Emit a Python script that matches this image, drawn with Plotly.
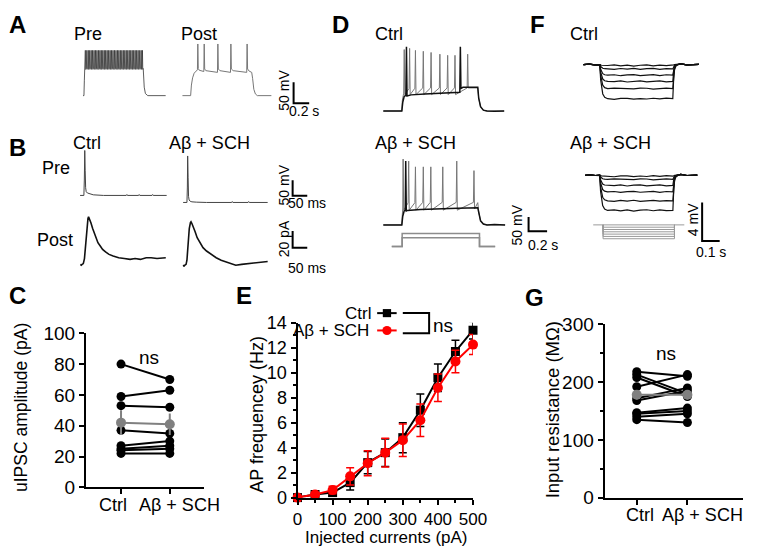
import plotly.graph_objects as go

W, H = 760, 557
FONT = "Liberation Sans, Arial, sans-serif"

# ======================= DATA =======================
# Panel C : uIPSC amplitude (pA), paired cells
c_ctrl = [80, 59, 53, 37, 27, 25, 24, 22]
c_ab = [70, 63, 52, 35, 30, 27, 25, 22]
c_mean = [42, 41]
c_sem = [8, 7]
c_cats = ["Ctrl", "Aβ + SCH"]

# Panel E : AP frequency vs injected current
e_current = [0, 50, 100, 150, 200, 250, 300, 350, 400, 450, 500]
e_ctrl = [0, 0.25, 0.4, 1.2, 2.8, 3.6, 4.8, 7.0, 9.6, 11.7, 13.4]
e_ctrl_sem = [0, 0.1, 0.3, 0.6, 0.9, 1.1, 1.2, 1.3, 1.1, 0.9, 0.7]
e_ab = [0, 0.25, 0.6, 1.7, 2.75, 3.6, 4.6, 6.2, 8.8, 10.9, 12.25]
e_ab_sem = [0, 0.1, 0.3, 0.7, 1.0, 1.15, 1.3, 1.3, 1.1, 0.9, 0.8]

# Panel G : input resistance (MOhm), paired cells
g_ctrl = [218, 213, 208, 192, 172, 168, 147, 145, 140, 135]
g_ab = [210, 180, 175, 213, 190, 185, 155, 150, 145, 130]
g_mean = [178, 178]
g_sem = [8, 8]

# Panel A : pre (fast-spiking) and post traces (s, mV)
a_pre_spike_t = [0.030, 0.049, 0.068, 0.086, 0.105, 0.123, 0.142, 0.161, 0.179, 0.198,
                 0.217, 0.235, 0.254, 0.273, 0.291, 0.310, 0.329, 0.348, 0.366, 0.385,
                 0.404, 0.423, 0.442, 0.460, 0.479, 0.498, 0.517, 0.536, 0.555, 0.574,
                 0.593, 0.612, 0.631, 0.650, 0.669, 0.688, 0.707, 0.727, 0.746, 0.762]
a_pre_peak = 37
a_pre_ahp = -6
a_pre_head_t = [0, 0.012, 0.017, 0.024]
a_pre_head_v = [-70, -70, -35, -6]
a_pre_tail_t = [0.772, 0.785, 0.80, 0.83, 1.06]
a_pre_tail_v = [-6, -50, -65, -70, -70]

a_post_t = [0, 0.105, 0.115, 0.13, 0.15, 0.18, 0.192, 0.197, 0.203, 0.215, 0.27, 0.274,
            0.279, 0.285, 0.30, 0.445, 0.449, 0.454, 0.46, 0.48, 0.612, 0.616, 0.621,
            0.627, 0.65, 0.82, 0.824, 0.829, 0.835, 0.855, 0.888, 0.90, 0.915, 0.935,
            0.96, 1.14]
a_post_v = [-70, -70, -45, -28, -17, -10, -9, 52, -6, -10, -13, -13, 52, -7, -11, -15,
            -15, 52, -7, -11, -15, -15, 52, -7, -11, -15, -15, 52, -7, -12, -15, -30,
            -55, -66, -70, -70]

# Panel B : paired recording (ms; mV for pre, pA for post)
b_pre_ctrl_t = [0, 13, 14.5, 16, 17.5, 19, 21, 25, 32, 45, 80, 158, 160, 162, 200, 202,
                204, 246, 248, 250, 296]
b_pre_ctrl_v = [-70, -70, -20, 76, 10, -45, -58, -62, -65, -68, -70, -70, -67, -70, -70,
                -67, -70, -70, -67, -70, -70]
b_pre_ab_t = [0, 13, 14.5, 15.5, 17, 18.5, 20.5, 24, 30, 45, 80, 166, 168, 170, 222,
              224, 226, 289]
b_pre_ab_v = [-70, -70, -20, 81, 10, -50, -62, -66, -68, -69, -70, -70, -67, -70, -70,
              -67, -70, -70]
b_post_ctrl_t = [0, 3, 6, 10, 14, 18, 22, 26, 28, 31, 36, 42, 48, 53, 60, 68, 76, 86, 98,
                 112, 131, 150, 170, 187, 205, 225, 242, 262, 280, 292]
b_post_ctrl_i = [-7, -8, -7, -6, 0, 18, 38, 48, 50, 48, 43, 36, 30, 25, 19, 15, 11, 8, 5,
                 3, 1, 0, -1, 0, -1, 1, 1, 0, 1, 1]
b_post_ab_t = [0, 3, 6, 10, 13, 17, 21, 25, 27, 30, 35, 41, 48, 58, 68, 80, 95, 113, 130,
               147, 165, 180, 200, 224, 250, 270, 289]
b_post_ab_i = [-6, -7, -6, -5, 0, 20, 38, 45, 46, 44, 40, 34, 27, 21, 15, 11, 7, 3, 0, -2,
               -4, -6, -5, -4, -3, -2, -1.5]

# Panel D : firing traces (s, mV) and current steps (pA)
d_ctrl_spk_t = [0, 0.20, 0.205, 0.215, 0.220, 0.226, 0.232, 0.278, 0.284, 0.290, 0.341,
                0.347, 0.353, 0.426, 0.432, 0.438, 0.510, 0.516, 0.522, 0.605, 0.611,
                0.617, 0.689, 0.695, 0.701, 0.768, 0.774, 0.780, 0.905, 0.911, 0.917,
                1.02, 1.03, 1.05, 1.08, 1.12, 1.305]
d_ctrl_spk_v = [-70, -70, -35, -15, -8, 143, -13, 8, 147, -13, 9, 140, -13, 10, 137, -13,
                10, 133, -13, 10, 127, -13, 10, 123, -13, 10, 123, -13, 10, 127, 10, 10,
                -25, -55, -67, -70, -70]
d_ctrl_sub_t = [0, 0.20, 0.21, 0.225, 0.244, 0.25, 0.256, 0.27, 0.30, 0.45, 0.60, 0.75,
                0.826, 0.832, 0.838, 0.86, 1.02, 1.03, 1.05, 1.08, 1.12, 1.2, 1.305]
d_ctrl_sub_v = [-70, -70, -40, -20, -15, 153, -18, -16, -14, -11, -9, -6, -5, 153, 8, 12,
                12, -25, -55, -67, -70, -71, -70]
d_ab_spk_t = [0, 0.20, 0.205, 0.210, 0.214, 0.220, 0.268, 0.274, 0.280, 0.341, 0.347,
              0.353, 0.426, 0.432, 0.438, 0.507, 0.513, 0.519, 0.636, 0.642, 0.648,
              0.787, 0.793, 0.799, 0.973, 0.979, 0.985, 1.02, 1.03, 1.05, 1.08, 1.12,
              1.315]
d_ab_spk_v = [-70, -70, -35, -15, 158, -19, 6, 151, -19, 7, 131, -19, 8, 131, -19, 8,
              131, -19, 8, 131, -19, 8, 151, -19, 8, 118, -15, 7, -25, -55, -67, -70, -70]
d_ab_sub_t = [0, 0.20, 0.21, 0.225, 0.237, 0.242, 0.248, 0.26, 0.40, 0.60, 0.80, 1.02,
              1.03, 1.05, 1.08, 1.12, 1.2, 1.315]
d_ab_sub_v = [-70, -70, -40, -22, -19, 151, -22, -20, -17, -14, -12, -11, -30, -56, -67,
              -70, -69, -70]
d_stim_t = [0, 0.112, 0.112, 0.947, 0.947, 1.116]
d_stim_hi = [0, 0, 300, 300, 0, 0]
d_stim_lo = [0, 0, 200, 200, 0, 0]

# Panel F : hyperpolarising responses (s, mV relative) and steps (pA)
f_ctrl_levels = [-0.1, -0.45, -1.1, -1.75, -2.5, -3.55]
f_ab_levels = [-0.1, -0.43, -1.06, -1.73, -2.66, -3.66]
f_on_dt = [0, 0.005, 0.010, 0.017, 0.028, 0.045]
f_on_frac = [0, 0.45, 0.7, 0.86, 0.96, 1.0]
f_off_dt = [0, 0.005, 0.010, 0.018, 0.030]
f_off_frac = [1, 0.4, 0.15, 0.04, 0]
f_wig_pos = [0.1, 0.2, 0.3, 0.4, 0.5, 0.6, 0.7, 0.8, 0.9]
f_wig = [[0.06, -0.04, 0.05, -0.06, 0.03, 0.07, -0.03, 0.05, -0.02],
         [-0.05, 0.04, -0.03, 0.06, -0.05, 0.02, 0.05, -0.04, 0.03],
         [0.04, -0.06, 0.02, 0.05, -0.04, -0.02, 0.06, -0.05, 0.04],
         [-0.03, 0.05, -0.06, 0.03, 0.05, -0.04, 0.02, 0.06, -0.05],
         [0.05, 0.02, -0.05, -0.03, 0.06, 0.04, -0.06, 0.03, 0.05],
         [-0.06, 0.03, 0.04, -0.05, 0.02, -0.03, 0.05, -0.02, 0.06]]
f_stim_levels = [-50, -100, -150, -200, -250, -300]

# ======================= LAYOUT HELPERS =======================
fig = go.Figure()
n_ax = [0]


def new_axes(xd, yd, xr, yr, xkw=None, ykw=None):
    n_ax[0] += 1
    s = "" if n_ax[0] == 1 else str(n_ax[0])
    xa = dict(domain=xd, range=xr, anchor="y" + s, fixedrange=True)
    ya = dict(domain=yd, range=yr, anchor="x" + s, fixedrange=True)
    if xkw:
        xa.update(xkw)
    if ykw:
        ya.update(ykw)
    fig.layout["xaxis" + s] = xa
    fig.layout["yaxis" + s] = ya
    return "x" + s, "y" + s


def scaled_axes(ax_px, ay_px, sx, sy):
    """invisible axes covering the page: data (0,0) sits at pixel (ax_px, ay_px)"""
    xr = [(0 - ax_px) / sx, (W - ax_px) / sx]
    yr = [(ay_px - H) / sy, ay_px / sy]
    return new_axes([0, 1], [0, 1], xr, yr, dict(visible=False), dict(visible=False))


def line(axes, x, y, color="black", width=1.0):
    fig.add_trace(go.Scatter(x=x, y=y, xaxis=axes[0], yaxis=axes[1], mode="lines",
                             line=dict(color=color, width=width), hoverinfo="skip",
                             showlegend=False))


def scalebar(ax_px, ay_px, sx, sy, xlen, ylen):
    ax = scaled_axes(ax_px, ay_px, sx, sy)
    line(ax, [xlen, 0, 0], [0, 0, ylen], "black", 2)


def px(x):
    return x / W


def py(y):
    return 1 - y / H


ann = []


def text(x, y, s, size=18, bold=False, angle=0, xanchor="center", color="black"):
    ann.append(dict(x=px(x), y=py(y), xref="paper", yref="paper", text=("<b>%s</b>" % s) if bold else s,
                    showarrow=False, font=dict(family=FONT, size=size, color=color),
                    textangle=angle, xanchor=xanchor, yanchor="middle", borderpad=0))


# ======================= PANEL A =======================
ax = scaled_axes(80, 89 - 70 * 0.44, 80, 0.44)
xs, vs = list(a_pre_head_t), list(a_pre_head_v)
for ts in a_pre_spike_t:
    xs += [ts - 0.006, ts, ts + 0.004]
    vs += [a_pre_ahp, a_pre_peak, a_pre_ahp - 2]
xs += a_pre_tail_t
vs += a_pre_tail_v
line(ax, xs, vs, "#333333", 0.8)
ax = scaled_axes(182, 89 - 70 * 0.44, 80, 0.44)
line(ax, a_post_t, a_post_v, "#777777", 1.0)
scalebar(296, 97, 80, 0.44, 0.2, 50)

# ======================= PANEL B =======================
ax = scaled_axes(77, 192.7 - 70 * 0.32, 0.3, 0.32)
line(ax, b_pre_ctrl_t, b_pre_ctrl_v, "#444444", 1.0)
ax = scaled_axes(182.7, 200 - 70 * 0.32, 0.3, 0.32)
line(ax, b_pre_ab_t, b_pre_ab_v, "#444444", 1.0)
ax = scaled_axes(77.3, 258.3, 0.3, 0.867)
line(ax, b_post_ctrl_t, b_post_ctrl_i, "#111111", 1.6)
ax = scaled_axes(182.7, 260, 0.3, 0.867)
line(ax, b_post_ab_t, b_post_ab_i, "#111111", 1.6)
scalebar(295, 193, 0.3, 0.32, 50, 50)
scalebar(295, 247, 0.3, 0.867, 50, 20)

# ======================= PANEL D =======================
ax = scaled_axes(388, 105 - 70 * 0.3, 95, 0.3)
line(ax, d_ctrl_spk_t, d_ctrl_spk_v, "#777777", 1.0)
line(ax, d_ctrl_sub_t, d_ctrl_sub_v, "#111111", 1.5)
ax = scaled_axes(388, 223.3 - 70 * 0.3, 95, 0.3)
line(ax, d_ab_spk_t, d_ab_spk_v, "#777777", 1.0)
line(ax, d_ab_sub_t, d_ab_sub_v, "#111111", 1.5)
ax = scaled_axes(396.7, 245.7, 95, 0.045)
line(ax, d_stim_t, d_stim_hi, "#8c8c8c", 1.5)
line(ax, d_stim_t, d_stim_lo, "#8c8c8c", 1.5)
scalebar(537, 230, 95, 0.3, 0.2, 50)


# ======================= PANEL F =======================
def f_trace(t_on, t_off, t_end, level, wig):
    t = [0, t_on * 0.35, t_on * 0.7]
    v = [0, 0.04, -0.03]
    for dt, fr in zip(f_on_dt, f_on_frac):
        t.append(t_on + dt)
        v.append(level * fr)
    t0 = t_on + f_on_dt[-1]
    for p, w in zip(f_wig_pos, wig):
        t.append(t0 + p * (t_off - t0))
        v.append(level + w)
    for dt, fr in zip(f_off_dt, f_off_frac):
        t.append(t_off + dt)
        v.append(level * fr)
    t += [t_off + 0.045, t_off + 0.08, t_end]
    v += [0.08, -0.03, 0.02]
    return t, v


ax = scaled_axes(593.3, 56.7, 180, 10)
for lev, wg in zip(f_ctrl_levels, f_wig):
    t, v = f_trace(0.093, 0.509, 0.658, lev, wg)
    line(ax, t, v, "#111111", 1.2)
ax = scaled_axes(595, 171.7, 180, 10)
for lev, wg in zip(f_ab_levels, f_wig[::-1]):
    t, v = f_trace(0.083, 0.5, 0.639, lev, wg)
    line(ax, t, v, "#111111", 1.2)
ax = scaled_axes(603.3, 223.3, 180, 0.048)
line(ax, [0, 0.519], [0, 0], "#9a9a9a", 1.0)
for L in f_stim_levels:
    line(ax, [0.056, 0.056, 0.463, 0.463], [0, L, L, 0], "#9a9a9a", 1.0)
scalebar(715, 240, 180, 10, 0.1, 4)

# ======================= CHART AXES COMMON =======================
axis_common = dict(showline=True, linecolor="black", linewidth=2, ticks="outside",
                   tickwidth=2, ticklen=5, tickcolor="black", showgrid=False,
                   zeroline=False, tickfont=dict(family=FONT, size=19, color="black"))

# ======================= PANEL C =======================
cx = new_axes([px(83), px(204)], [py(496), py(336)], [0.28, 2.7], [0, 100],
              dict(axis_common, tickvals=[1, 2], ticktext=["", ""]),
              dict(axis_common, dtick=20))
for a, b in zip(c_ctrl, c_ab):
    fig.add_trace(go.Scatter(x=[1, 2], y=[a, b], xaxis=cx[0], yaxis=cx[1], mode="lines+markers",
                             line=dict(color="black", width=2), marker=dict(size=9, color="black"),
                             showlegend=False, hoverinfo="skip", cliponaxis=False))
fig.add_trace(go.Scatter(x=[1, 2], y=c_mean, xaxis=cx[0], yaxis=cx[1], mode="lines+markers",
                         line=dict(color="#808080", width=2), marker=dict(size=10, color="#808080"),
                         error_y=dict(type="data", array=c_sem, color="#808080", thickness=2, width=0),
                         showlegend=False, hoverinfo="skip", cliponaxis=False))

# ======================= PANEL E =======================
ex = new_axes([px(300), px(480)], [py(506.7), py(325)], [0, 500], [0, 14],
              dict(axis_common, dtick=100, tickfont=dict(family=FONT, size=17, color="black"),
                   minor=dict(dtick=50, ticks="outside", ticklen=3, tickwidth=2, tickcolor="black")),
              dict(axis_common, dtick=2, tickfont=dict(family=FONT, size=18, color="black"),
                   minor=dict(dtick=1, ticks="outside", ticklen=3, tickwidth=2, tickcolor="black")))
fig.add_trace(go.Scatter(x=e_current, y=e_ctrl, xaxis=ex[0], yaxis=ex[1], mode="lines+markers",
                         line=dict(color="black", width=2), marker=dict(symbol="square", size=9, color="black"),
                         error_y=dict(type="data", array=e_ctrl_sem, color="black", thickness=1.5, width=4),
                         showlegend=False, hoverinfo="skip", cliponaxis=False))
fig.add_trace(go.Scatter(x=e_current, y=e_ab, xaxis=ex[0], yaxis=ex[1], mode="lines+markers",
                         line=dict(color="#ff0000", width=2), marker=dict(symbol="circle", size=10, color="#ff0000"),
                         error_y=dict(type="data", array=e_ab_sem, color="#ff0000", thickness=1.5, width=4),
                         showlegend=False, hoverinfo="skip", cliponaxis=False))

# ======================= PANEL G =======================
gx = new_axes([px(615), px(757)], [py(506.7), py(326.7)], [0.365, 3.1], [0, 300],
              dict(axis_common, tickvals=[1, 2], ticktext=["", ""]),
              dict(axis_common, dtick=100,
                   minor=dict(dtick=50, ticks="outside", ticklen=3, tickwidth=2, tickcolor="black")))
for a, b in zip(g_ctrl, g_ab):
    fig.add_trace(go.Scatter(x=[1, 2], y=[a, b], xaxis=gx[0], yaxis=gx[1], mode="lines+markers",
                             line=dict(color="black", width=2), marker=dict(size=9, color="black"),
                             showlegend=False, hoverinfo="skip", cliponaxis=False))
fig.add_trace(go.Scatter(x=[1, 2], y=g_mean, xaxis=gx[0], yaxis=gx[1], mode="lines+markers",
                         line=dict(color="#808080", width=2), marker=dict(size=10, color="#808080"),
                         error_y=dict(type="data", array=g_sem, color="#808080", thickness=2, width=0),
                         showlegend=False, hoverinfo="skip", cliponaxis=False))

# ======================= TEXT =======================
for s, x, y in [("A", 12.5, 15.5), ("B", 12.5, 142.5), ("C", 12.5, 297), ("D", 344, 15),
                ("E", 245, 297), ("F", 546, 15), ("G", 543, 299)]:
    text(x, y, s, 24, bold=True)
text(85.5, 24.5, "Pre")
text(198.5, 24.5, "Post")
text(84.5, 138, "Ctrl")
text(210, 138, "Aβ + SCH")
text(52, 164, "Pre")
text(51, 239, "Post")
text(394, 24.5, "Ctrl")
text(421.5, 138, "Aβ + SCH")
text(594, 24.5, "Ctrl")
text(621.5, 138, "Aβ + SCH")
# scale bar labels
text(286, 83, "50 mV", 14, angle=-90)
text(307, 105, "0.2 s", 14)
text(286.5, 182, "50 mV", 14, angle=-90)
text(310, 201, "50 ms", 14)
text(286.5, 238, "20 pA", 14, angle=-90)
text(310, 268, "50 ms", 14)
text(525, 223, "50 mV", 14, angle=-90)
text(552, 244, "0.2 s", 14)
text(705, 218, "4 mV", 14, angle=-90)
text(724, 252, "0.1 s", 14)
# chart labels
text(17, 413, "uIPSC amplitude (pA)", 17.5, angle=-90)
text(111, 514, c_cats[0], 18)
text(178.5, 514, c_cats[1], 18)
text(147.5, 361, "ns", 19)
text(259, 420, "AP frequencey (Hz)", 18, angle=-90)
text(391, 548, "Injected currents (pA)", 17)
text(561, 415, "Input resistance (MΩ)", 18.5, angle=-90)
text(651, 525, c_cats[0], 18)
text(715.5, 525, c_cats[1], 18)
text(678, 357, "ns", 19)
# E legend
text(376, 315, "Ctrl", 17, xanchor="right")
text(374, 333, "Aβ + SCH", 17, xanchor="right")
text(449, 328, "ns", 19)

shapes = [
    dict(type="line", xref="paper", yref="paper", x0=px(381.7), x1=px(401.7), y0=py(315), y1=py(315),
         line=dict(color="black", width=2)),
    dict(type="rect", xref="paper", yref="paper", x0=px(387.5), x1=px(396), y0=py(319.2), y1=py(310.8),
         fillcolor="black", line=dict(width=0)),
    dict(type="line", xref="paper", yref="paper", x0=px(381.7), x1=px(401.7), y0=py(333), y1=py(333),
         line=dict(color="#ff0000", width=2)),
    dict(type="circle", xref="paper", yref="paper", x0=px(387), x1=px(396.5), y0=py(337.7), y1=py(328.3),
         fillcolor="#ff0000", line=dict(width=0)),
    dict(type="path", xref="paper", yref="paper",
         path="M %f %f L %f %f L %f %f L %f %f" % (px(408), py(315), px(435), py(315), px(435), py(336),
                                                   px(408), py(336)),
         line=dict(color="black", width=2)),
]

fig.update_layout(width=W, height=H, margin=dict(l=0, r=0, t=0, b=0), autosize=False,
                  paper_bgcolor="white", plot_bgcolor="rgba(0,0,0,0)", showlegend=False,
                  annotations=ann, shapes=shapes, font=dict(family=FONT))
fig.write_html("out.html", config={"displayModeBar": False, "staticPlot": True},
               post_script="document.body.style.margin='0px';document.body.style.overflow='hidden';")
